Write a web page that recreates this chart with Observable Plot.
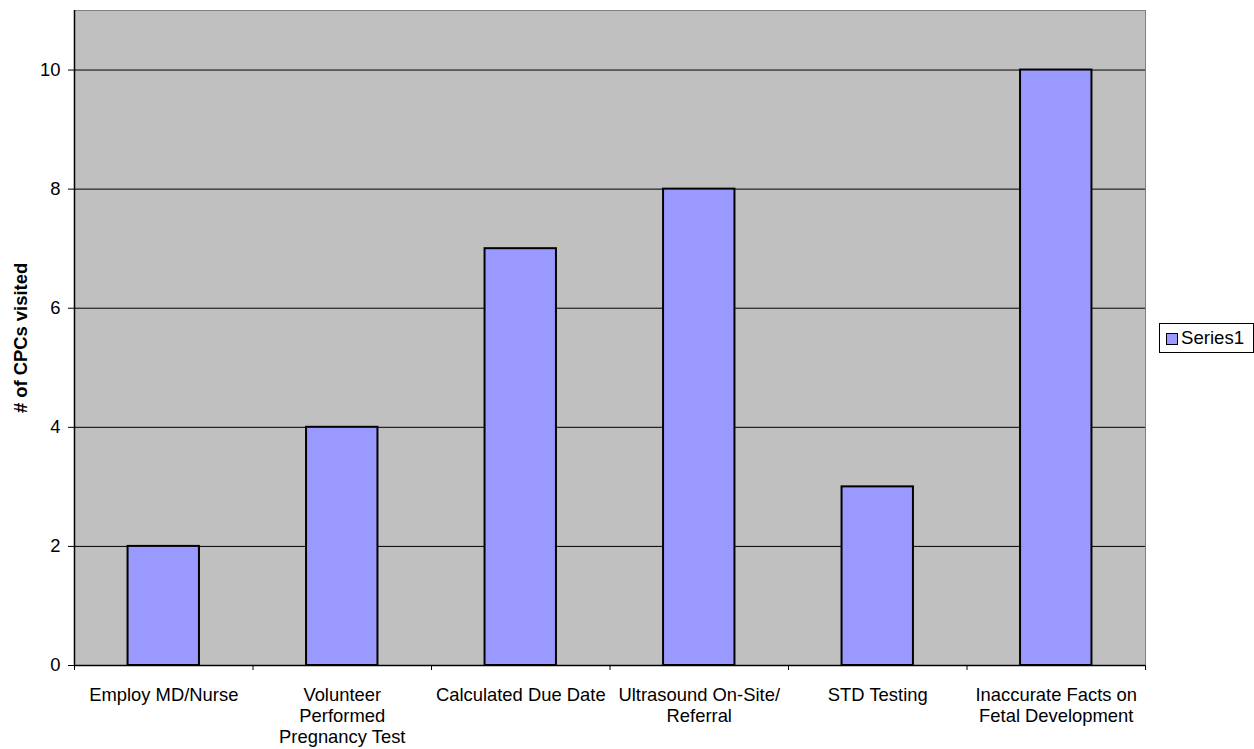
<!DOCTYPE html>
<html><head>
<meta charset="utf-8">
<script src="https://cdn.jsdelivr.net/npm/d3@7"></script>
<script src="https://cdn.jsdelivr.net/npm/@observablehq/plot@0.6"></script>
<style>
body{margin:0;background:#fff;font-family:"Liberation Sans",Arial,sans-serif;}
#wrap{position:relative;width:1254px;height:749px;}
#legend{position:absolute;left:1159px;top:323px;width:93px;height:28px;border:1px solid #000;background:#fff;box-sizing:content-box;font-size:18.6px;color:#000;}
#legend .sw{position:absolute;left:6px;top:9px;width:10px;height:10px;border:1px solid #000;background:#9999FF;}
#legend .lb{position:absolute;left:21px;top:4px;line-height:20px;}
</style>
</head><body>
<div id="wrap"></div>
<script>
const categories = ["Employ MD/Nurse","Volunteer\nPerformed\nPregnancy Test","Calculated Due Date","Ultrasound On-Site/\nReferral","STD Testing","Inaccurate Facts on\nFetal Development"];
const values = [2,4,7,8,3,10];
const yTicks = [0,2,4,6,8,10];
const yMax = 11;
const seriesName = "Series1";
const yTitle = "# of CPCs visited";

const data = categories.map((c,i)=>({c, i, v: values[i]}));
const boundaries = d3.range(categories.length + 1);
const fs = 18.4;

const chart = Plot.plot({
  width: 1254, height: 749,
  marginLeft: 74, marginTop: 10, marginRight: 109, marginBottom: 84,
  style: {fontFamily: '"Liberation Sans", Arial, sans-serif', fontSize: fs + "px", color: "#000", background: "#fff"},
  x: {domain: [0, categories.length]},
  y: {domain: [0, yMax]},
  marks: [
    Plot.frame({fill: "#C0C0C0", stroke: "#808080"}),
    Plot.ruleY(yTicks.filter(t => t > 0), {stroke: "#000", strokeWidth: 1}),
    Plot.rectY(data, {x1: d => d.i + 0.3, x2: d => d.i + 0.7, y: "v", fill: "#9999FF", stroke: "#000", strokeWidth: 2}),
    Plot.ruleX([0], {stroke: "#000", strokeWidth: 1.5}),
    Plot.ruleY([0], {stroke: "#000", strokeWidth: 1.5}),
    Plot.axisY({ticks: yTicks, tickSize: 6, tickPadding: 8, fontSize: fs, label: null, tickFormat: d3.format("d")}),
    Plot.axisX({ticks: boundaries, tickSize: 5, tickFormat: () => "", label: null}),
    Plot.text(data, {x: d => d.i + 0.5, y: 0, text: "c", dy: 20, lineAnchor: "top", lineHeight: 1.16, fontSize: fs, fill: "#000"}),
    Plot.text([yTitle], {frameAnchor: "left", dx: -53, rotate: -90, textAnchor: "middle", lineAnchor: "middle", fontWeight: "bold", fontSize: fs, fill: "#000"})
  ]
});
document.getElementById("wrap").appendChild(chart);
const lg = document.createElement("div");
lg.id = "legend";
lg.innerHTML = '<div class="sw"></div><div class="lb"></div>';
lg.querySelector(".lb").textContent = seriesName;
document.getElementById("wrap").appendChild(lg);
</script>
</body></html>
